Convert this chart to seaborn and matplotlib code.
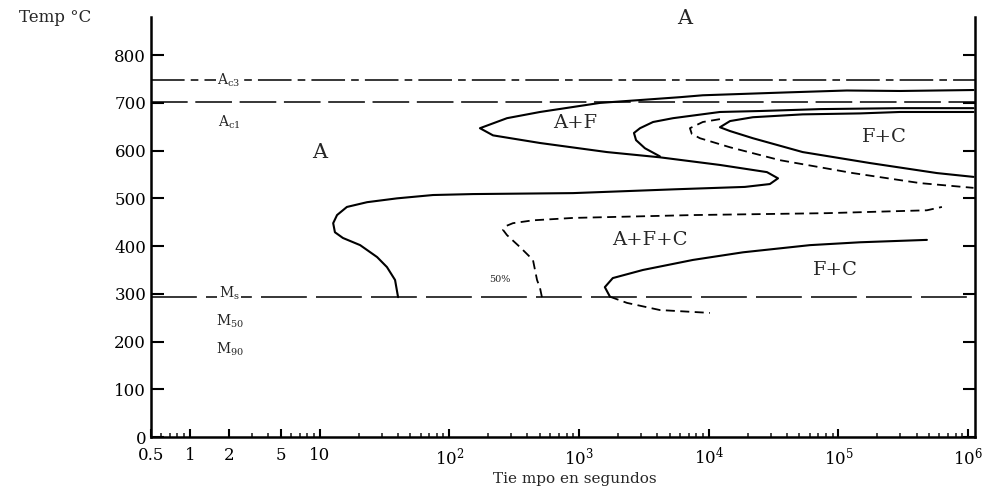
import matplotlib
matplotlib.use("Agg")
import matplotlib.pyplot as plt
import seaborn as sns
import pandas as pd

# ---------------- data (time in s, temperature in °C) ----------------
ac3_temp = 747
ac1_temp = 702
ms_temp = 293

# ferrite start curve (solid, outer S curve)
fs_time = [1.1e6, 2.98e5, 1.16e5, 4.0e4, 9.0e3, 6.0e3, 2.95e3, 1.45e3, 500, 278, 172,
           217, 500, 1.64e3, 4.2e3, 1.22e4, 2.81e4, 3.42e4, 2.96e4, 1.90e4, 5.49e3,
           897, 152, 74.8, 39.4, 23.2, 16.2, 13.6, 12.7, 13.1, 15.1, 20.5, 27.7, 33.0,
           38.1, 40.2]
fs_temp = [727, 725, 726, 722, 716, 712, 706, 700, 681, 668, 647,
           632, 616, 597, 586, 570, 555, 542, 530, 524, 519,
           511, 509, 507, 500, 492, 482, 465, 448, 429, 417, 402, 377, 356,
           329, 293]

# second start curve (solid, joins the first one)
cs_time = [1.1e6, 2.98e5, 7.2e4, 2.48e4, 1.22e4, 5.3e3, 3.72e3, 2.95e3, 2.65e3,
           2.75e3, 3.22e3, 4.2e3]
cs_temp = [689, 689, 687, 683, 681, 668, 660, 647, 637, 622, 605, 588]

# dashed curve (upper)
d1_time = [1.22e4, 9.0e3, 7.16e3, 7.4e3, 8.55e3, 1.46e4, 3.54e4, 1.29e5, 4.25e5, 1.1e6]
d1_temp = [666, 660, 647, 635, 626, 607, 580, 553, 532, 522]

# finish curve F+C (solid, upper)
ff_time = [1.1e6, 2.98e5, 1.47e5, 5.3e4, 2.19e4, 1.46e4, 1.22e4, 1.46e4, 2.19e4,
           5.3e4, 1.75e5, 5.75e5, 1.1e6]
ff_temp = [681, 681, 678, 676, 670, 662, 649, 641, 626, 597, 574, 553, 545]

# 50 % curve (dashed)
h50_time = [517, 500, 474, 441, 350, 278, 259, 273, 309, 441, 897, 7.55e3,
            8.15e4, 4.81e5, 6.28e5]
h50_temp = [293, 312, 329, 371, 398, 423, 434, 442, 448, 454, 459, 465,
            469, 475, 482]

# lower finish curve F+C (solid) and its dashed continuation below Ms
lf_time = [4.81e5, 1.47e5, 6.03e4, 1.84e4, 7.55e3, 3.11e3, 1.82e3, 1.58e3, 1.73e3]
lf_temp = [413, 408, 402, 387, 371, 350, 333, 314, 294]
lt_time = [1.73e3, 2.34e3, 4.2e3, 1.02e4]
lt_temp = [294, 281, 266, 260]

x_ticks = [0.5, 1, 2, 5, 10, 1e2, 1e3, 1e4, 1e5, 1e6]
x_labels = ["0.5", "1", "2", "5", "10", r"$10^2$", r"$10^3$", r"$10^4$",
            r"$10^5$", r"$10^6$"]
y_ticks = [0, 100, 200, 300, 400, 500, 600, 700, 800]

# ---------------- style ----------------
sns.set_theme(style="ticks")
plt.rcParams['font.family'] = ['DejaVu Serif']
plt.rcParams['mathtext.fontset'] = 'dejavuserif'

fig = plt.figure(figsize=(10.02, 4.86), dpi=100)
fig.patch.set_facecolor("white")
ax = fig.add_axes([151 / 1002, 49 / 486, (975 - 151) / 1002, (437 - 17) / 486])
ax.set_facecolor("white")
ax.set_xscale("log")
ax.set_xlim(0.5, 1.13e6)
ax.set_ylim(0, 880)

solid = dict(color="black", lw=1.5, sort=False, estimator=None, ax=ax)
sns.lineplot(x=fs_time, y=fs_temp, **solid)
sns.lineplot(x=cs_time, y=cs_temp, **solid)
sns.lineplot(x=ff_time, y=ff_temp, **solid)
sns.lineplot(x=lf_time, y=lf_temp, **solid)
dashed = dict(color="black", lw=1.3, sort=False, estimator=None, ax=ax,
              linestyle=(0, (5, 3)))
sns.lineplot(x=d1_time, y=d1_temp, **dashed)
sns.lineplot(x=h50_time, y=h50_temp, **dashed)
sns.lineplot(x=lt_time, y=lt_temp, **dashed)

# critical temperature lines
ax.axhline(ac3_temp, color="black", lw=1.1, linestyle=(0, (22, 4, 5, 4)))
ax.axhline(ac1_temp, color="black", lw=1.1, linestyle=(0, (24, 5)))
ax.axhline(ms_temp, color="black", lw=1.1, linestyle=(0, (30, 6)))

wb = dict(facecolor="white", edgecolor="none", pad=1)
ax.text(2.0, ac3_temp, r"A$_\mathrm{c3}$", fontsize=10, ha="center", va="center", bbox=wb)
ax.text(2.0, 660, r"A$_\mathrm{c1}$", fontsize=10, ha="center", va="center")
ax.text(2.0, ms_temp, r"M$_\mathrm{s}$", fontsize=10, ha="center", va="baseline", bbox=wb)
ax.text(2.05, 243, r"M$_\mathrm{50}$", fontsize=10, ha="center", va="center")
ax.text(2.05, 184, r"M$_\mathrm{90}$", fontsize=10, ha="center", va="center")

ax.text(10, 597, "A", fontsize=15, ha="center", va="center")
ax.text(6550, 877, "A", fontsize=15, ha="center", va="center")
ax.text(930, 657, "A+F", fontsize=14, ha="center", va="center")
ax.text(2.28e5, 628, "F+C", fontsize=14, ha="center", va="center")
ax.text(3520, 412, "A+F+C", fontsize=14, ha="center", va="center")
ax.text(9.4e4, 350, "F+C", fontsize=14, ha="center", va="center")
ax.text(245, 329, "50%", fontsize=7, ha="center", va="center")

# axes
ax.set_xticks(x_ticks)
ax.set_xticklabels(x_labels)
ax.set_yticks(y_ticks)
ax.tick_params(axis="x", which="major", direction="in", length=6, width=1.5,
               labelsize=12, pad=7, colors="black")
ax.tick_params(axis="x", which="minor", direction="in", length=3, width=1.2,
               bottom=True)
ax.tick_params(axis="y", direction="in", length=9, width=1.5, labelsize=12,
               left=True, right=True, colors="black")
ax.spines["top"].set_visible(False)
for s in ("left", "right", "bottom"):
    ax.spines[s].set_color("black")
    ax.spines[s].set_linewidth(1.8)
ax.set_xlabel("")
ax.set_ylabel("")

fig.text(55 / 1002, 1 - 18 / 486, "Temp °C", fontsize=12, ha="center", va="center")
fig.text(575 / 1002, 1 - 479 / 486, "Tie mpo en segundos", fontsize=11,
         ha="center", va="center")

fig.savefig("out.png", dpi=100, facecolor="white")
